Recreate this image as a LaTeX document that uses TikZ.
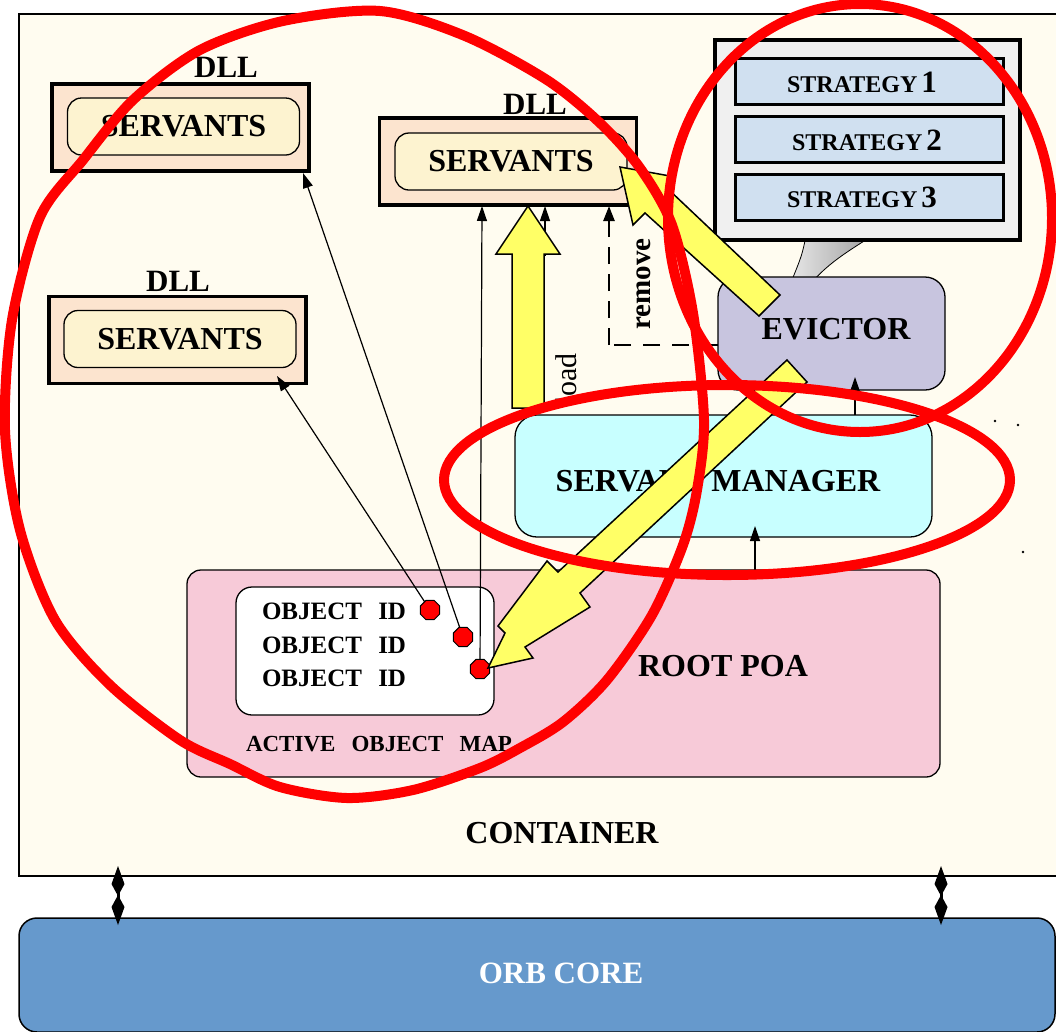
\documentclass[tikz,border=0pt]{standalone}
\usepackage{fontspec}
\setmainfont{Liberation Serif}
\usetikzlibrary{arrows.meta,shapes.geometric}

\definecolor{contfill}{HTML}{FFFCF0}
\definecolor{dllfill}{HTML}{FCE4CF}
\definecolor{srvfill}{HTML}{FDF3D0}
\definecolor{panelfill}{HTML}{F0F0F0}
\definecolor{stratfill}{HTML}{D0E0F0}
\definecolor{evfill}{HTML}{C8C5DF}
\definecolor{smfill}{HTML}{C8FFFF}
\definecolor{poafill}{HTML}{F7CAD8}
\definecolor{orbfill}{HTML}{6699CC}
\definecolor{yel}{HTML}{FFFF66}
\definecolor{annot}{HTML}{FF0000}

\newcommand\fsz[1]{\fontsize{#1pt}{#1pt}\selectfont}

\begin{document}
\begin{tikzpicture}[x=1pt,y=-1pt,
  every node/.style={inner sep=0pt, outer sep=0pt},
  box/.style={draw, line width=1.3pt},
  dllbox/.style={box, line width=3.5pt, fill=dllfill, minimum width=257pt, minimum height=87pt},
  srvbox/.style={box, fill=srvfill, rounded corners=14pt, minimum width=232pt, minimum height=57pt, font=\fsz{32}\bfseries},
  dlltxt/.style={font=\fsz{31}\bfseries},
  stratbox/.style={draw, line width=3pt, fill=stratfill, minimum width=268pt, minimum height=46pt},
  strattxt/.style={font=\fsz{24}\bfseries},
  bigtxt/.style={font=\fsz{32}\bfseries},
  oidtxt/.style={font=\fsz{25}\bfseries, anchor=base west},
  rdot/.style={regular polygon, regular polygon sides=8, draw, line width=1pt, fill=red, minimum size=21pt},
  arr/.style={line width=1.2pt, -{Triangle[length=15pt,width=10pt]}},
  dasharr/.style={line width=2.5pt, dash pattern=on 17pt off 10pt, -{Triangle[length=15pt,width=11pt]}},
  biarr/.style={line width=3pt, {Kite[length=30pt,width=13pt,inset=12pt]}-{Kite[length=30pt,width=13pt,inset=12pt]}},
  blockarrow/.style={draw, line width=1.5pt, fill=yel, line join=miter},
  redloop/.style={draw=annot, line width=10pt}
]
\useasboundingbox (0,0) rectangle (1056,1031);
\clip (0,0) rectangle (1056,1031);
\fill[white] (0,0) rectangle (1056,1031);

% container
\node[draw, line width=1.5pt, fill=contfill, minimum width=1051pt, minimum height=862pt] (cont) at (544.5,445) {};
\node[bigtxt] (contT) at (562,833) {CONTAINER};

% three DLLs holding servants
\node[dllbox] (dllA) at (180.5,127.5) {};
\node[srvbox] (srvA) at (183.5,126.5) {SERVANTS};
\node[dlltxt] (dllAT) at (226,67) {DLL};

\node[dllbox] (dllB) at (508,161.5) {};
\node[srvbox] (srvB) at (511,161.5) {SERVANTS};
\node[dlltxt] (dllBT) at (535,104) {DLL};

\node[dllbox] (dllC) at (177.5,340) {};
\node[srvbox] (srvC) at (180,339) {SERVANTS};
\node[dlltxt] (dllCT) at (178,281) {DLL};

% strategy panel and its callout tail
\shade[left color=gray!20, right color=gray!75, draw=black, line width=0.8pt]
  (806,236) .. controls (802,255) .. (792,280) -- (814,280)
  .. controls (830,262) and (850,250) .. (872,236) -- cycle;
\node[draw, line width=4pt, fill=panelfill, minimum width=305pt, minimum height=200pt] (panel) at (867.5,140) {};
\node[stratbox] (s1) at (869,81) {};
\node[strattxt] (s1T) at (862,82) {STRATEGY\,{\fsz{31}1}};
\node[stratbox] (s2) at (869,139) {};
\node[strattxt] (s2T) at (867,140) {STRATEGY\,{\fsz{31}2}};
\node[stratbox] (s3) at (869,197) {};
\node[strattxt] (s3T) at (862,197) {STRATEGY\,{\fsz{31}3}};

% evictor, servant manager, root POA
\node[box, fill=evfill, rounded corners=20pt, minimum width=227pt, minimum height=113pt] (ev) at (831.5,333.5) {};
\node[bigtxt] (evT) at (836,329) {EVICTOR};
\node[box, fill=smfill, rounded corners=22pt, minimum width=417pt, minimum height=122pt] (sm) at (723.5,476) {};
\node[bigtxt] (smT) at (718,481) {SERVANT MANAGER};
\node[box, fill=poafill, rounded corners=14pt, minimum width=753pt, minimum height=207pt] (poa) at (563.5,673.5) {};
\node[bigtxt] (poaT) at (723,666) {ROOT POA};

% active object map
\node[box, fill=white, rounded corners=16pt, minimum width=258pt, minimum height=128pt] (aom) at (365,651) {};
\node[oidtxt] (id1) at (262,619) {OBJECT\hspace{0.65em}ID};
\node[oidtxt] (id2) at (262,653) {OBJECT\hspace{0.65em}ID};
\node[oidtxt] (id3) at (262,686) {OBJECT\hspace{0.65em}ID};
\node[oidtxt, font=\fsz{23}\bfseries] (aomT) at (246,751) {ACTIVE\hspace{0.7em}OBJECT\hspace{0.7em}MAP};

% object id references into the servants
\node[rdot] (d1) at (430,610) {};
\node[rdot] (d2) at (463,637) {};
\node[rdot] (d3) at (480,669) {};
\coordinate (tA) at (303,173);
\coordinate (tC) at (277,376);
\coordinate (tB) at (482,206);
\draw[arr] (d1) -- (tC);
\draw[arr] (d2) -- (tA);
\draw[arr] (d3) -- (tB);

% short connectors between the managers
\coordinate (smE) at (855,415);
\coordinate (evS) at (855,377);
\draw[arr] (smE) -- (evS);
\coordinate (poaS) at (755,570);
\coordinate (smS) at (755,526);
\draw[arr] (poaS) -- (smS);
\coordinate (ldA) at (545,256);
\coordinate (ldB) at (545,206);
\draw[arr] (ldA) -- (ldB);

% remove path from the evictor
\coordinate (rmA) at (718,345);
\coordinate (rmB) at (609,345);
\coordinate (rmC) at (609,206);
\draw[line width=2pt, dash pattern=on 17pt off 12pt] (rmA) -- (rmB);
\draw[dasharr] (rmB) -- (rmC);
\node[font=\fsz{29}\bfseries, rotate=90] (rmT) at (644,284) {remove};
\node[font=\fsz{30}, rotate=90] (ldT) at (566,379) {load};

% yellow block arrows
\draw[blockarrow] (512,408) -- (512,254) -- (496,254) -- (528,206) -- (560,254) -- (544,254) -- (544,408) -- cycle;
\draw[blockarrow] (780,295) -- (668,189) -- (670,176) -- (620,167) -- (633,225) -- (645,213) -- (759,316) -- cycle;
\draw[blockarrow] (787,360) -- (558,572) -- (547,561) -- (498,626) -- (505,633) -- (488,668)
  -- (533,658) -- (525,647) -- (590,607) -- (580,593) -- (807,382) -- cycle;

% ORB core
\node[draw, line width=1.5pt, fill=orbfill, rounded corners=18pt, minimum width=1036pt, minimum height=114pt] (orb) at (537,975) {};
\node[font=\fsz{31}\bfseries, text=white] (orbT) at (561,973) {ORB CORE};
\coordinate (c1) at (118,866);
\coordinate (o1) at (118,925);
\draw[biarr] (c1) -- (o1);
\coordinate (c2) at (941,866);
\coordinate (o2) at (941,925);
\draw[biarr] (c2) -- (o2);

% stray specks
\fill (995,421) circle (1.3pt);
\fill (1018,425) circle (1.3pt);
\fill (1023,552) circle (1.3pt);

% red highlight loops
\draw[redloop] plot[smooth cycle] coordinates {
  (380,11) (465,36) (547,80) (600,123) (640,168) (672,225) (693,313) (704,420)
  (697,490) (683,545) (652,615) (607,680) (563,722) (520,748) (480,768) (413,790)
  (347,798) (280,787) (230,764) (180,740) (110,685) (55,620) (20,530) (5,430)
  (12,320) (40,217) (83,160) (133,100) (200,50) (283,21)};
\draw[redloop] (860,218) ellipse [x radius=192pt, y radius=214pt];
\draw[redloop] (727,480) ellipse [x radius=283pt, y radius=95pt];
\end{tikzpicture}
\end{document}
